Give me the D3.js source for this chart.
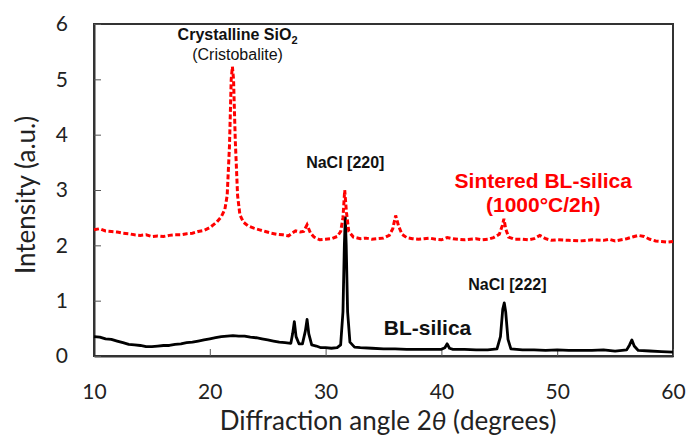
<!DOCTYPE html>
<html>
<head>
<meta charset="utf-8">
<script src="https://cdn.jsdelivr.net/npm/d3@7"></script>
<style>
  body { margin: 0; background: #fff; }
  svg { display: block; }
  .tick text { font-family: Lato, "Open Sans", sans-serif; font-size: 21px; fill: #222; }
  .note { font-family: "Liberation Sans", Arial, sans-serif; }
</style>
</head>
<body>
<div id="chart"></div>
<script>
// 2theta (degrees) and intensity (a.u.)
const sinteredX = [10, 10.5, 11, 11.5, 12, 12.5, 13, 13.5, 14, 14.5, 15, 15.5, 16, 16.5, 17, 17.5, 18, 18.5, 19, 19.5,
  20, 20.3, 20.6, 21, 21.3, 21.5, 21.7, 21.85, 21.95, 22.05, 22.2, 22.4, 22.6, 22.9, 23.3, 23.8, 24.3, 24.8, 25.3, 25.8,
  26.3, 26.8, 27.1, 27.4, 27.8, 28.1, 28.4, 28.7, 29, 29.5, 30, 30.5, 31, 31.3, 31.5, 31.65, 31.8, 32, 32.4, 33,
  33.5, 34, 34.5, 35, 35.5, 35.8, 36.05, 36.3, 36.6, 37, 37.5, 38, 38.5, 39, 39.5, 40, 40.5, 41, 41.5, 42,
  42.5, 43, 43.5, 44, 44.5, 45, 45.25, 45.4, 45.55, 45.8, 46.3, 47, 47.5, 48, 48.5, 49, 49.5, 50, 51, 52,
  53, 54, 54.5, 55, 56, 56.5, 57, 57.5, 58, 58.5, 59, 59.5, 60];
const sinteredY = [2.28, 2.30, 2.26, 2.25, 2.24, 2.22, 2.21, 2.19, 2.18, 2.19, 2.16, 2.17, 2.16, 2.18, 2.19, 2.19, 2.21, 2.22, 2.25, 2.27,
  2.32, 2.37, 2.42, 2.52, 2.65, 2.9, 3.8, 5.0, 5.23, 5.0, 3.9, 2.9, 2.55, 2.42, 2.35, 2.31, 2.28, 2.25, 2.22, 2.20,
  2.19, 2.17, 2.22, 2.26, 2.24, 2.25, 2.37, 2.22, 2.15, 2.10, 2.11, 2.12, 2.16, 2.25, 2.5, 3.0, 2.6, 2.25, 2.15, 2.12,
  2.13, 2.11, 2.12, 2.13, 2.18, 2.3, 2.54, 2.35, 2.2, 2.14, 2.12, 2.11, 2.12, 2.13, 2.11, 2.10, 2.14, 2.12, 2.11, 2.10,
  2.11, 2.12, 2.10, 2.11, 2.14, 2.2, 2.35, 2.48, 2.3, 2.15, 2.11, 2.11, 2.10, 2.12, 2.18, 2.12, 2.09, 2.10, 2.09, 2.08,
  2.10, 2.09, 2.11, 2.08, 2.12, 2.15, 2.18, 2.16, 2.11, 2.08, 2.07, 2.06, 2.07];

const blX = [10, 10.5, 11, 11.5, 12, 12.5, 13, 13.5, 14, 14.5, 15, 15.5, 16, 16.5, 17, 17.5, 18, 18.5, 19, 19.5,
  20, 20.5, 21, 21.5, 22, 22.5, 23, 23.5, 24, 24.5, 25, 25.5, 26, 26.5, 27, 27.15, 27.3, 27.45, 27.7, 28,
  28.25, 28.4, 28.55, 28.8, 29.2, 29.6, 30, 30.5, 31, 31.3, 31.5, 31.62, 31.7, 31.78, 31.9, 32.1, 32.5, 33, 34, 35,
  36, 37, 38, 39, 40, 40.3, 40.5, 40.7, 41, 42, 43, 44, 44.8, 45.1, 45.3, 45.43, 45.55, 45.75, 46, 47,
  48, 49, 50, 51, 52, 53, 54, 55, 56, 56.25, 56.45, 56.65, 57, 58, 59, 60];
const blY = [0.35, 0.34, 0.31, 0.30, 0.27, 0.24, 0.21, 0.20, 0.19, 0.17, 0.17, 0.18, 0.19, 0.19, 0.21, 0.22, 0.24, 0.25, 0.27, 0.29,
  0.31, 0.33, 0.35, 0.36, 0.37, 0.36, 0.36, 0.34, 0.33, 0.31, 0.29, 0.27, 0.25, 0.24, 0.23, 0.4, 0.62, 0.35, 0.22, 0.22,
  0.45, 0.66, 0.4, 0.2, 0.18, 0.15, 0.15, 0.14, 0.15, 0.2, 0.8, 2.0, 2.5, 2.0, 0.8, 0.25, 0.16, 0.15, 0.14, 0.13,
  0.13, 0.12, 0.12, 0.12, 0.12, 0.15, 0.22, 0.14, 0.12, 0.12, 0.11, 0.11, 0.13, 0.35, 0.85, 0.96, 0.8, 0.3, 0.13, 0.11,
  0.11, 0.10, 0.11, 0.10, 0.10, 0.10, 0.11, 0.09, 0.11, 0.2, 0.29, 0.18, 0.10, 0.09, 0.08, 0.07];

const xTicks = [10, 20, 30, 40, 50, 60];
const yTicks = [0, 1, 2, 3, 4, 5, 6];

const width = 688, height = 437;
const margin = { top: 24, right: 15, bottom: 81, left: 94 };

const svg = d3.select("#chart")
    .append("svg")
    .attr("width", width)
    .attr("height", height);

const x = d3.scaleLinear().domain([10, 60]).range([margin.left, width - margin.right]);
const y = d3.scaleLinear().domain([0, 6]).range([height - margin.bottom, margin.top]);

// frame (top and right sides)
svg.append("rect")
    .attr("x", x(10))
    .attr("y", y(6))
    .attr("width", x(60) - x(10))
    .attr("height", y(0) - y(6))
    .attr("fill", "none")
    .attr("stroke", "#333")
    .attr("stroke-width", 2);

const xAxis = svg.append("g")
    .attr("transform", `translate(0,${y(0)})`)
    .call(d3.axisBottom(x).tickValues(xTicks).tickFormat(d3.format("d"))
        .tickSize(-7).tickPadding(28).tickSizeOuter(0));

const yAxis = svg.append("g")
    .attr("transform", `translate(${x(10)},0)`)
    .call(d3.axisLeft(y).tickValues(yTicks).tickFormat(d3.format("d"))
        .tickSize(-7).tickPadding(26).tickSizeOuter(0));

[xAxis, yAxis].forEach(g => {
    g.select(".domain").attr("stroke", "#333").attr("stroke-width", 2);
    g.selectAll(".tick line").attr("stroke", "#555").attr("stroke-width", 1);
});

const line = d3.line()
    .x(d => x(d[0]))
    .y(d => y(d[1]));

svg.append("path")
    .datum(d3.zip(blX, blY))
    .attr("d", line)
    .attr("fill", "none")
    .attr("stroke", "#000")
    .attr("stroke-width", 2.8)
    .attr("stroke-linejoin", "round");

svg.append("path")
    .datum(d3.zip(sinteredX, sinteredY))
    .attr("d", line)
    .attr("fill", "none")
    .attr("stroke", "#ff0000")
    .attr("stroke-width", 3)
    .attr("stroke-dasharray", "5,2.5");

// axis titles
svg.append("text")
    .attr("x", 388)
    .attr("y", 430)
    .attr("text-anchor", "middle")
    .style("font-family", "Lato, 'Open Sans', sans-serif")
    .style("font-size", "26px")
    .attr("fill", "#222")
    .html("Diffraction angle 2<tspan font-style='italic'>θ</tspan> (degrees)");

svg.append("text")
    .attr("transform", "translate(35,195) rotate(-90)")
    .attr("text-anchor", "middle")
    .style("font-family", "Lato, 'Open Sans', sans-serif")
    .style("font-size", "26px")
    .attr("fill", "#222")
    .text("Intensity (a.u.)");

// annotations
const notes = [
    { t: "Crystalline SiO", sub: "2", x: 22.4, y: 5.71, size: 16, weight: "bold", color: "#111" },
    { t: "(Cristobalite)", x: 22.4, y: 5.35, size: 16, weight: "normal", color: "#111" },
    { t: "NaCl [220]", x: 31.7, y: 3.40, size: 16, weight: "bold", color: "#111" },
    { t: "Sintered BL-silica", x: 48.8, y: 3.03, size: 21, weight: "bold", color: "#ff0000" },
    { t: "(1000°C/2h)", x: 48.8, y: 2.60, size: 21, weight: "bold", color: "#ff0000" },
    { t: "NaCl [222]", x: 45.7, y: 1.19, size: 16, weight: "bold", color: "#111" },
    { t: "BL-silica", x: 38.8, y: 0.38, size: 21, weight: "bold", color: "#111" }
];

notes.forEach(n => {
    const txt = svg.append("text")
        .attr("class", "note")
        .attr("x", x(n.x))
        .attr("y", y(n.y))
        .attr("text-anchor", "middle")
        .style("font-size", n.size + "px")
        .style("font-weight", n.weight)
        .attr("fill", n.color)
        .text(n.t);
    if (n.sub) {
        txt.append("tspan")
            .attr("dy", 4)
            .style("font-size", "11px")
            .text(n.sub);
    }
});
</script>
</body>
</html>
